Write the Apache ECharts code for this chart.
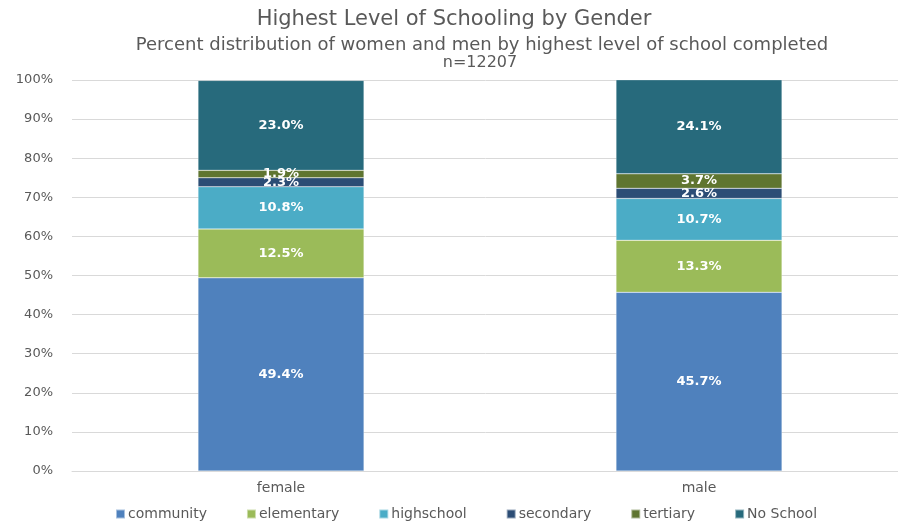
<!DOCTYPE html>
<html>
<head>
<meta charset="utf-8">
<script src="https://cdn.jsdelivr.net/npm/echarts@6/dist/echarts.min.js"></script>
<style>
  html, body { margin: 0; padding: 0; background: #fff; }
  #main { width: 898px; height: 522px; }
</style>
</head>
<body>
<div id="main"></div>
<script>
// categories and values (percent)
var genders = ['female', 'male'];
var levels = ['community', 'elementary', 'highschool', 'secondary', 'tertiary', 'No School'];
var community = [49.4, 45.7];
var elementary = [12.5, 13.3];
var highschool = [10.8, 10.7];
var secondary = [2.3, 2.6];
var tertiary = [1.9, 3.7];
var noSchool = [23.0, 24.1];
var yTicks = [0, 10, 20, 30, 40, 50, 60, 70, 80, 90, 100];

var colors = ['#4F81BD', '#9BBB59', '#4BACC6', '#2C4D75', '#5F7530', '#276A7C'];
var values = [community, elementary, highschool, secondary, tertiary, noSchool];

var myChart = echarts.init(document.getElementById('main'));

var series = levels.map(function (name, i) {
  return {
    name: name,
    type: 'bar',
    stack: 'total',
    barWidth: 166,
    data: values[i],
    itemStyle: { color: colors[i], borderColor: 'rgba(255,255,255,0.5)', borderWidth: 0.5 },
    label: {
      show: true,
      position: 'inside',
      color: '#fff',
      fontFamily: 'DejaVu Sans',
      fontWeight: 'bold',
      fontSize: 13,
      formatter: function (p) { return p.value.toFixed(1) + '%'; }
    }
  };
});

var option = {
  animation: false,
  color: colors,
  title: [
    {
      text: 'Highest Level of Schooling by Gender',
      left: 449, top: 4, textAlign: 'center',
      textStyle: { fontFamily: 'DejaVu Sans', fontWeight: 'normal', fontSize: 21, color: '#595959' }
    },
    {
      text: 'Percent distribution of women and men by highest level of school completed',
      left: 477, top: 31, textAlign: 'center',
      textStyle: { fontFamily: 'DejaVu Sans', fontWeight: 'normal', fontSize: 18, color: '#595959' }
    },
    {
      text: 'n=12207',
      left: 475, top: 50, textAlign: 'center',
      textStyle: { fontFamily: 'DejaVu Sans', fontWeight: 'normal', fontSize: 16, color: '#595959' }
    }
  ],
  legend: {
    top: 502,
    left: 110,
    itemWidth: 9,
    itemHeight: 9,
    itemGap: 39,
    icon: 'rect',
    textStyle: { fontFamily: 'DejaVu Sans', fontSize: 14, color: '#595959', padding: [0, 0, 0, -2] },
    data: levels
  },
  grid: { left: 72, width: 836, top: 80, bottom: 51, outerBoundsMode: 'none' },
  xAxis: {
    type: 'category',
    data: genders,
    axisTick: { show: false },
    axisLine: { lineStyle: { color: '#d9d9d9' } },
    axisLabel: { fontFamily: 'DejaVu Sans', fontSize: 14, color: '#595959', margin: 10 }
  },
  yAxis: {
    type: 'value',
    min: 0,
    max: 100,
    interval: 10,
    axisLabel: {
      fontFamily: 'DejaVu Sans', fontSize: 13, color: '#595959', margin: 19,
      formatter: function (v) { return yTicks.indexOf(v) >= 0 ? v + '%' : ''; }
    },
    splitLine: { lineStyle: { color: '#d9d9d9' } }
  },
  series: series
};

myChart.setOption(option);
</script>
</body>
</html>
